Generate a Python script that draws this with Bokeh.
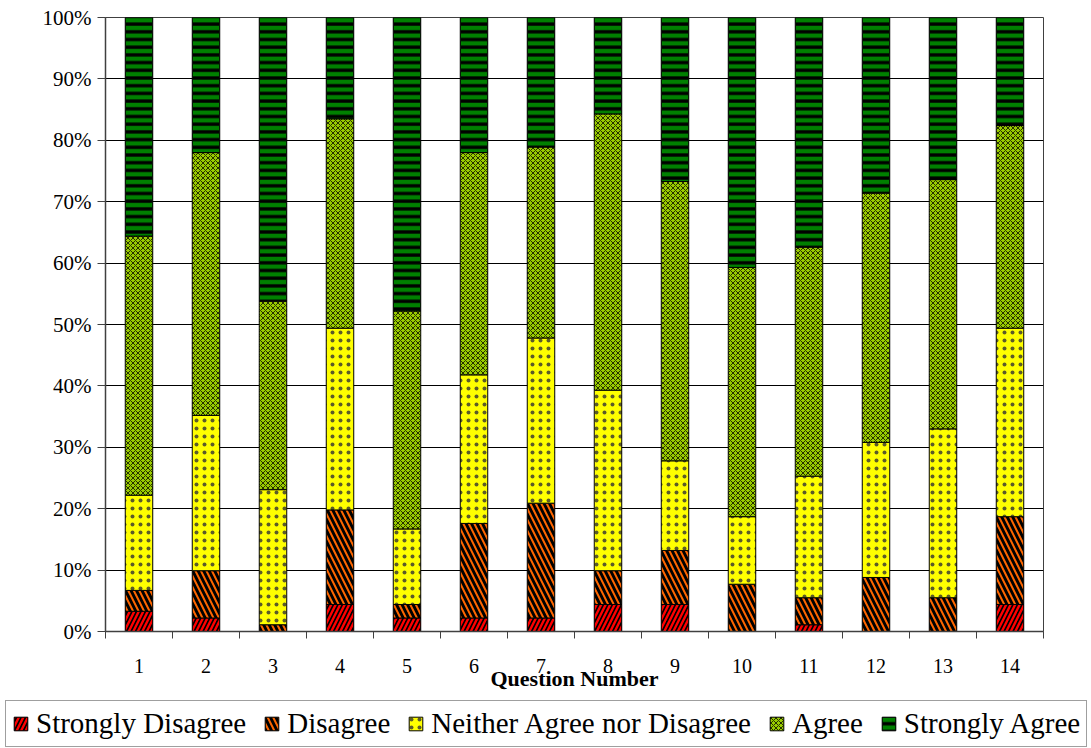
import numpy as np
from bokeh.plotting import figure
from bokeh.layouts import column
from bokeh.models import (ColumnDataSource, FixedTicker, PrintfTickFormatter,
                          Legend, LegendItem, Range1d)
from bokeh.embed import file_html
from bokeh.resources import INLINE

# Survey responses per question, percent of respondents
question_numbers = [1, 2, 3, 4, 5, 6, 7, 8, 9, 10, 11, 12, 13, 14]
strongly_disagree = [3.3, 2.2, 0.0, 4.4, 2.2, 2.2, 2.2, 4.4, 4.4, 0.0, 1.1, 0.0, 0.0, 4.4]
disagree = [3.4, 7.7, 1.1, 15.4, 2.2, 15.4, 18.7, 5.5, 8.8, 7.7, 4.4, 8.8, 5.5, 14.3]
neither = [15.5, 25.3, 22.0, 29.6, 12.3, 24.2, 26.9, 29.4, 14.6, 11.0, 19.8, 22.0, 27.5, 30.7]
agree = [42.2, 42.8, 30.7, 34.1, 35.5, 36.2, 31.1, 45.0, 45.5, 40.6, 37.3, 40.6, 40.6, 33.0]
strongly_agree = [35.6, 22.0, 46.2, 16.5, 47.8, 22.0, 21.1, 15.7, 26.7, 40.7, 37.4, 28.6, 26.4, 17.6]

series_names = ["Strongly Disagree", "Disagree", "Neither Agree nor Disagree",
                "Agree", "Strongly Agree"]
series_values = [strongly_disagree, disagree, neither, agree, strongly_agree]
y_ticks = [0, 10, 20, 30, 40, 50, 60, 70, 80, 90, 100]

# fill / hatch styling for each response level
styles = [
    dict(fill_color="black", hatch_pattern="/", hatch_color="#FF0000",
         hatch_scale=9, hatch_weight=2.4),
    dict(fill_color="black", hatch_pattern="\\", hatch_color="#FF6600",
         hatch_scale=11, hatch_weight=2.0),
    dict(fill_color="#FFFF00", hatch_pattern=".", hatch_color="#333333",
         hatch_scale=8, hatch_alpha=0.8),
    dict(fill_color="#99CC00", hatch_pattern="x", hatch_color="#263000",
         hatch_scale=5, hatch_weight=1),
    dict(fill_color="black", hatch_pattern="-", hatch_color="#008000",
         hatch_scale=7.7, hatch_weight=4.4),
]

SERIF = "'Liberation Serif', serif"

p = figure(width=1091, height=700, output_backend="svg", toolbar_location=None,
           x_range=Range1d(0.5, 14.5), y_range=Range1d(0, 100),
           min_border_left=105, min_border_right=48,
           min_border_top=17, min_border_bottom=69,
           background_fill_color="white", border_fill_color="white")
p.title.visible = False
p.frame_align = False
p.outline_line_color = "#404040"
p.outline_line_width = 1

x = np.array(question_numbers, dtype=float)
bottom = np.zeros(len(x))
for vals, st in zip(series_values, styles):
    vals = np.array(vals, dtype=float)
    top = bottom + vals
    src = ColumnDataSource(dict(x=x, bottom=bottom.copy(), top=top))
    p.vbar(x="x", bottom="bottom", top="top", width=0.41, source=src,
           line_color="black", line_width=1, **st)
    bottom = top

# axes
p.xgrid.visible = False
p.ygrid.ticker = FixedTicker(ticks=y_ticks)
p.ygrid.grid_line_color = "black"
p.ygrid.grid_line_width = 1

yax = p.yaxis[0]
yax.ticker = FixedTicker(ticks=y_ticks)
yax.formatter = PrintfTickFormatter(format="%d%%")
yax.major_tick_out = 8
yax.major_tick_in = 0
yax.minor_tick_out = 0
yax.axis_line_color = "#404040"
yax.axis_line_width = 1.5
yax.major_tick_line_color = "#404040"
yax.major_label_standoff = 6
yax.major_label_text_font = SERIF
yax.major_label_text_font_size = "21px"
yax.major_label_text_color = "black"

xax = p.xaxis[0]
xax.ticker = FixedTicker(ticks=question_numbers,
                         minor_ticks=[q - 0.5 for q in question_numbers] + [14.5])
xax.major_tick_out = 0
xax.major_tick_in = 0
xax.major_tick_line_color = None
xax.minor_tick_out = 7
xax.minor_tick_in = 0
xax.minor_tick_line_color = "#404040"
xax.axis_line_color = "#404040"
xax.axis_line_width = 1.5
xax.major_label_standoff = 20
xax.major_label_text_font = SERIF
xax.major_label_text_font_size = "20px"
xax.major_label_text_color = "black"
xax.axis_label = "Question Number"
xax.axis_label_standoff = -10
xax.axis_label_text_font = SERIF
xax.axis_label_text_font_size = "22px"
xax.axis_label_text_font_style = "bold"
xax.axis_label_text_color = "black"

# legend strip underneath the chart; its swatch renderers sit outside the view
leg = figure(width=1091, height=48, output_backend="svg", toolbar_location=None,
             x_range=Range1d(0, 1), y_range=Range1d(0, 1),
             x_axis_location=None, y_axis_location=None,
             min_border=0, background_fill_color="white",
             border_fill_color="white")
leg.title.visible = False
leg.frame_align = False
leg.outline_line_color = None
leg.grid.visible = False

items = []
for name, st in zip(series_names, styles):
    swatch = ColumnDataSource(dict(x=[-5.0], bottom=[-5.0], top=[-4.0]))
    r = leg.vbar(x="x", bottom="bottom", top="top", width=0.1, source=swatch,
                 line_color="black", line_width=1, **st)
    items.append(LegendItem(label=name, renderers=[r]))

legend = Legend(items=items, orientation="horizontal", location=(5, 1),
                label_text_font=SERIF, label_text_font_size="29px",
                label_text_color="black", glyph_width=17, glyph_height=17,
                label_standoff=7, spacing=17, padding=6, margin=0,
                border_line_color="#404040", border_line_width=1.5,
                background_fill_color="white", background_fill_alpha=1)
leg.add_layout(legend, "center")

open("out.html", "w").write(file_html(column(p, leg), INLINE))
